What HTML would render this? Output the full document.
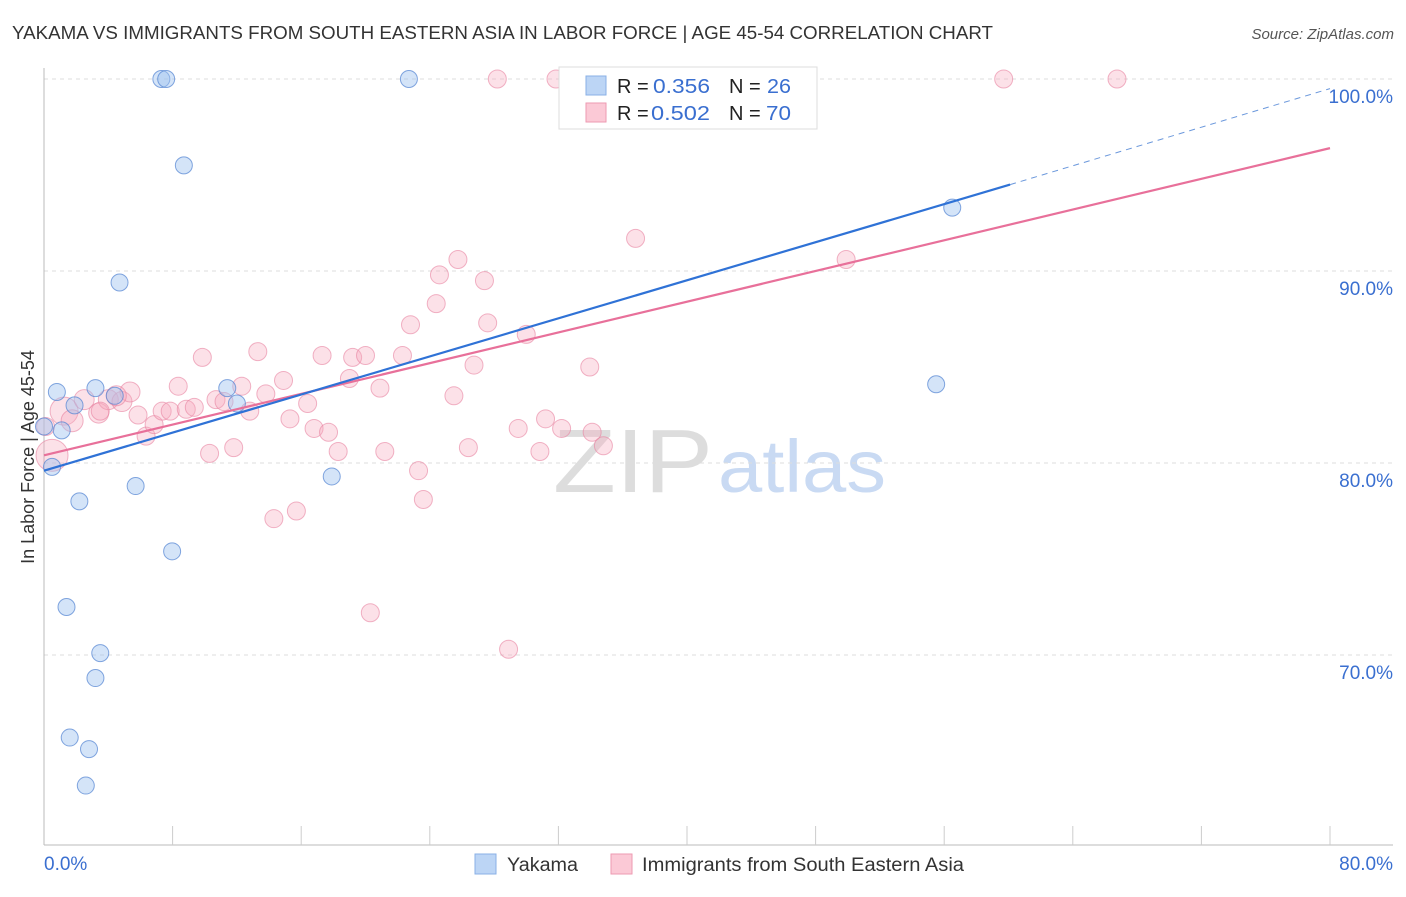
<!DOCTYPE html>
<html><head><meta charset="utf-8"><style>
body{margin:0;background:#fff;font-family:"Liberation Sans",sans-serif;}
svg text{font-family:"Liberation Sans",sans-serif;}
</style></head><body>
<svg id="c" width="1406" height="892" xmlns="http://www.w3.org/2000/svg">
<text x="12" y="39" font-size="18" fill="#333" textLength="981" lengthAdjust="spacingAndGlyphs">YAKAMA VS IMMIGRANTS FROM SOUTH EASTERN ASIA IN LABOR FORCE | AGE 45-54 CORRELATION CHART</text>
<text x="1394" y="39" font-size="15" fill="#555" text-anchor="end" font-style="italic">Source: ZipAtlas.com</text>
<text x="553" y="492" font-size="90" fill="#ddd" textLength="160" lengthAdjust="spacingAndGlyphs" font-family="Liberation Serif">ZIP</text>
<text x="718" y="492" font-size="74" fill="#c9daf3" textLength="168" lengthAdjust="spacingAndGlyphs">atlas</text>
<text transform="translate(34,457) rotate(-90)" font-size="18" fill="#333" text-anchor="middle">In Labor Force | Age 45-54</text>
<g id="grid"></g><g id="marks"></g><g id="lines"></g>
<g>
<rect x="559" y="67" width="258" height="62" fill="#fff" stroke="#ddd"/>
<rect x="586" y="76" width="20" height="19" fill="#bcd5f5" stroke="#8ab0e6"/>
<text x="617" y="93" font-size="20" fill="#222">R =</text>
<text x="653" y="93" font-size="20" fill="#3a6fd0" textLength="57" lengthAdjust="spacingAndGlyphs">0.356</text>
<text x="729" y="93" font-size="20" fill="#222">N =</text>
<text x="767" y="93" font-size="20" fill="#3a6fd0" textLength="24" lengthAdjust="spacingAndGlyphs">26</text>
<rect x="586" y="103" width="20" height="19" fill="#fbc9d6" stroke="#ee9ab2"/>
<text x="617" y="120" font-size="20" fill="#222">R =</text>
<text x="651" y="120" font-size="20" fill="#3a6fd0" textLength="59" lengthAdjust="spacingAndGlyphs">0.502</text>
<text x="729" y="120" font-size="20" fill="#222">N =</text>
<text x="766" y="120" font-size="20" fill="#3a6fd0" textLength="25" lengthAdjust="spacingAndGlyphs">70</text>
</g>
<g>
<rect x="475" y="854" width="21" height="20" fill="#bcd5f5" stroke="#8ab0e6"/>
<text x="507" y="871" font-size="19" fill="#333" textLength="71" lengthAdjust="spacingAndGlyphs">Yakama</text>
<rect x="611" y="854" width="21" height="20" fill="#fbc9d6" stroke="#ee9ab2"/>
<text x="642" y="871" font-size="19" fill="#333" textLength="322" lengthAdjust="spacingAndGlyphs">Immigrants from South Eastern Asia</text>
</g>
</svg>
<script>
const xTicks=[0,80];
const yTicks=[70,80,90,100];
const blueX=[0,0.5,0.8,1.1,1.9,2.2,3.2,4.4,4.7,5.7,7.3,7.6,7.97,8.7,11.4,12.0,17.9,22.7,1.4,3.5,3.2,1.6,2.8,2.6,55.5,56.5];
const blueY=[81.9,79.8,83.7,81.7,83.0,78.0,83.9,83.5,89.4,78.8,100,100,75.4,95.5,83.9,83.1,79.3,100,72.5,70.1,68.8,65.7,65.1,63.2,84.1,93.3];
const pinkX=[0.5,1.25,1.75,2.5,3.4,4.0,4.85,5.35,4.5,5.85,6.35,6.85,7.35,7.85,8.35,8.85,9.35,9.85,10.3,10.7,11.2,11.8,12.3,12.8,13.3,13.8,14.3,14.9,15.3,15.7,16.4,16.8,17.3,17.7,18.3,19.0,19.2,20.0,20.3,20.9,21.2,22.3,22.8,23.3,23.6,24.4,24.6,25.5,25.75,26.4,26.75,27.4,27.6,28.2,28.9,29.5,30.0,30.85,31.2,31.85,32.2,33.95,34.1,34.8,36.8,49.9,59.7,66.75,0.1,3.5];
const pinkY=[80.4,82.7,82.2,83.3,82.6,83.3,83.2,83.7,83.5,82.5,81.4,82.0,82.7,82.7,84.0,82.8,82.9,85.5,80.5,83.3,83.2,80.8,84.0,82.7,85.8,83.6,77.1,84.3,82.3,77.5,83.1,81.8,85.6,81.6,80.6,84.4,85.5,85.6,72.2,83.9,80.6,85.6,87.2,79.6,78.1,88.3,89.8,83.5,90.6,80.8,85.1,89.5,87.3,100,70.3,81.8,86.7,80.6,82.3,100,81.8,85.0,81.6,80.9,91.7,90.6,100,100,81.9,82.7];
const pinkR=[16,14,11,10,10,10,10,10,10,9,9,9,9,9,9,9,9,9,9,9,9,9,9,9,9,9,9,9,9,9,9,9,9,9,9,9,9,9,9,9,9,9,9,9,9,9,9,9,9,9,9,9,9,9,9,9,9,9,9,9,9,9,9,9,9,9,9,9,9,9];
const blueLine=[[0,79.6],[60.1,94.5]], blueDash=[[60.1,94.5],[80,99.5]], pinkLine=[[0,80.4],[80,96.4]];
const X=v=>44+v/80*1286, Y=v=>79+(100-v)*19.2;
const NS="http://www.w3.org/2000/svg";
function mk(t,a,p){const e=document.createElementNS(NS,t);for(const k in a)e.setAttribute(k,a[k]);document.getElementById(p).appendChild(e);return e;}
yTicks.forEach(t=>{
 const g=mk('line',{x1:44,x2:1393,y1:Y(t),y2:Y(t),stroke:'#ddd','stroke-dasharray':'4,4'},'grid');
 
 
 const l=mk('text',{x:1393,y:Y(t)+24,'font-size':19,fill:'#3a6fd0','text-anchor':'end'},'grid');
 
 
 l.textContent=t.toFixed(1)+'%';
});
const ax=mk('line',{x1:44,x2:44,y1:68,y2:845,stroke:'#bbb'},'grid');


const bx=mk('line',{x1:44,x2:1393,y1:845,y2:845,stroke:'#bbb'},'grid');


for(let i=1;i<=10;i++){const t=mk('line',{x1:X(i*8),x2:X(i*8),y1:826,y2:845,stroke:'#ccc'},'grid');
 
 }
xTicks.forEach((t,i)=>{const l=mk('text',{x:i?1393:44,y:870,'font-size':19,fill:'#3a6fd0','text-anchor':i?'end':'start'},'grid');
 
 
 l.textContent=t.toFixed(1)+'%';});
pinkX.forEach((v,i)=>{const c=mk('circle',{cx:X(v),cy:Y(pinkY[i]),r:pinkR[i],fill:'rgba(247,168,190,0.35)',stroke:'rgba(232,130,160,0.6)'},'marks');
 
 });
blueX.forEach((v,i)=>{const c=mk('circle',{cx:X(v),cy:Y(blueY[i]),r:8.5,fill:'rgba(160,195,240,0.45)',stroke:'rgba(80,130,210,0.7)'},'marks');
 
 });
function ln(p,st,dash,name){const e=mk('line',{x1:X(p[0][0]),y1:Y(p[0][1]),x2:X(p[1][0]),y2:Y(p[1][1]),stroke:st,'stroke-width':dash?1:2.2},'lines');
 if(dash)e.setAttribute('stroke-dasharray','6,5');
 
 }
ln(pinkLine,'#e8709a',0,'trend-line-immigrants');
ln(blueLine,'#2f72d6',0,'trend-line-yakama');
ln(blueDash,'#6b98dc',1,'trend-line-yakama-extension');
</script>
</body></html>
